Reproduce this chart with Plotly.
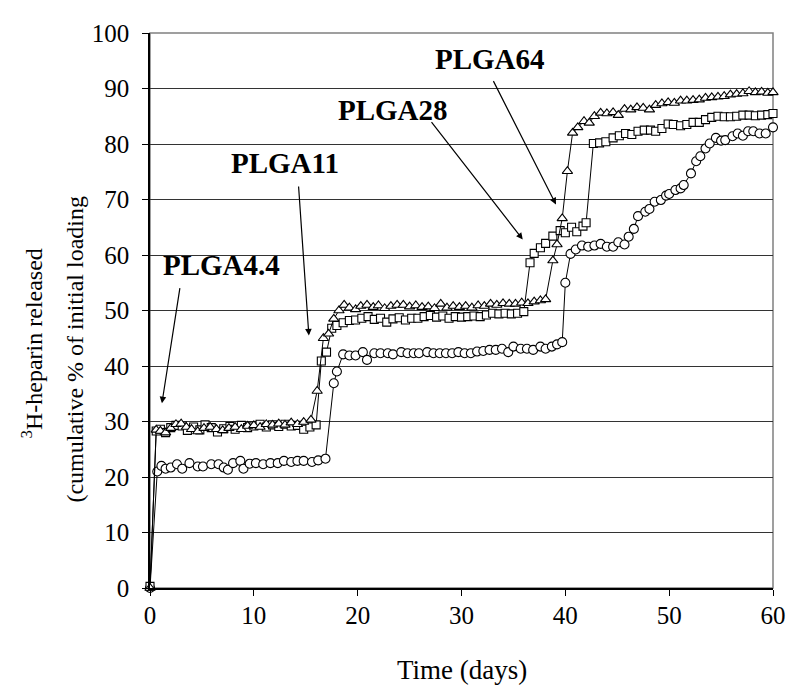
import plotly.graph_objects as go

# ---- data ----
t_circle = [0, 0.7, 1.1, 1.5, 2.0, 2.6, 3.1, 3.8, 4.6, 5.1, 5.9, 6.6, 7.1, 7.5, 8.0, 8.7, 9.0, 9.6,
            10.2, 10.9, 11.6, 12.3, 12.9, 13.6, 14.2, 14.8, 15.6, 16.2, 16.9, 17.7, 18.0, 18.6, 19.2,
            19.8, 20.5, 20.9, 21.6, 22.2, 22.9, 23.4, 24.2, 24.8, 25.4, 25.9, 26.7, 27.3, 27.9, 28.5,
            29.1, 29.7, 30.3, 30.9, 31.5, 32.1, 32.7, 33.3, 33.9, 34.5, 35.0, 35.7, 36.3, 36.9, 37.6,
            38.1, 38.7, 39.2, 39.7, 40.0, 40.5, 41.0, 41.6, 42.2, 42.8, 43.4, 44.0, 44.6, 45.1, 45.7,
            46.1, 46.6, 47.0, 47.7, 48.1, 48.6, 49.2, 49.7, 50.0, 50.6, 51.1, 51.4, 52.1, 52.6, 53.0,
            53.5, 53.9, 54.5, 55.0, 55.4, 56.1, 56.6, 57.1, 57.6, 58.1, 58.7, 59.3, 60.0]
v_circle = [0, 21.0, 22.0, 21.5, 21.7, 22.3, 21.5, 22.5, 21.9, 21.9, 22.3, 22.3, 21.7, 21.3, 22.5, 22.9,
            21.5, 22.4, 22.5, 22.3, 22.5, 22.5, 22.9, 22.7, 22.9, 22.9, 22.7, 23.0, 23.3, 36.9, 39.0,
            42.1, 41.9, 41.9, 42.5, 41.1, 42.3, 42.3, 42.3, 42.1, 42.5, 42.3, 42.3, 42.3, 42.5, 42.3,
            42.3, 42.3, 42.3, 42.5, 42.3, 42.3, 42.6, 42.7, 42.9, 42.9, 43.1, 42.5, 43.5, 43.1, 43.1,
            42.9, 43.5, 43.1, 43.5, 43.9, 44.3, 55.0, 60.2, 61.0, 61.7, 61.5, 61.7, 62.0, 61.5, 61.5,
            62.3, 61.9, 63.3, 64.7, 67.0, 67.8, 68.3, 69.6, 69.9, 70.7, 71.0, 71.7, 72.0, 72.6, 74.7,
            76.9, 77.8, 79.2, 80.1, 81.1, 80.6, 80.7, 81.4, 81.9, 81.5, 82.3, 82.3, 81.9, 81.9, 83.0]

t_square = [0, 0.6, 1.0, 1.5, 2.0, 2.5, 3.1, 3.6, 4.2, 4.8, 5.3, 5.9, 6.5, 7.1, 7.7, 8.2, 8.8, 9.4,
            10.0, 10.6, 11.2, 11.8, 12.4, 13.0, 13.6, 14.2, 14.8, 15.4, 16.0, 16.5, 17.0, 17.5, 18.0,
            18.6, 19.2, 19.8, 20.4, 21.0, 21.6, 22.2, 22.8, 23.4, 24.0, 24.6, 25.2, 25.8, 26.4, 27.0,
            27.6, 28.2, 28.8, 29.4, 30.0, 30.6, 31.2, 31.8, 32.4, 33.0, 33.6, 34.2, 34.8, 35.4, 36.0,
            36.6, 37.0, 37.6, 38.1, 38.8, 39.5, 40.0, 40.6, 41.1, 41.7, 42.0, 42.7, 43.3, 43.9, 44.6,
            45.2, 45.8, 46.4, 47.0, 47.6, 48.2, 48.7, 49.3, 49.9, 50.4, 51.1, 51.7, 52.3, 52.9, 53.5,
            54.1, 54.7, 55.3, 55.9, 56.5, 57.1, 57.7, 58.3, 58.9, 59.5, 60.0]
v_square = [0.3, 28.3, 28.6, 28.0, 28.9, 29.3, 29.2, 28.4, 29.0, 28.5, 29.4, 28.9, 28.1, 28.7, 29.1,
            28.6, 29.3, 28.9, 29.2, 29.5, 29.0, 29.4, 29.1, 29.5, 29.2, 29.3, 28.6, 29.0, 29.4, 40.9,
            42.5, 46.8, 47.3, 47.8, 48.2, 48.3, 48.6, 48.9, 48.4, 48.6, 47.9, 48.5, 48.7, 48.3, 48.6,
            48.6, 48.9, 49.1, 48.8, 49.0, 48.6, 48.9, 48.8, 48.9, 49.0, 48.9, 49.2, 49.5, 49.4, 49.5,
            49.4, 49.5, 49.8, 58.6, 60.3, 61.3, 62.1, 63.4, 64.4, 64.0, 65.0, 64.2, 65.2, 65.8, 80.1,
            80.2, 80.4, 81.1, 81.5, 81.9, 81.7, 82.3, 82.5, 82.5, 82.3, 82.8, 83.6, 83.5, 83.3, 83.5,
            83.9, 83.9, 84.4, 84.8, 85.0, 84.9, 84.9, 85.0, 85.2, 85.2, 85.1, 85.2, 85.3, 85.5]

t_triangle = [0, 0.6, 1.0, 1.5, 2.0, 2.5, 3.0, 3.5, 4.0, 4.6, 5.2, 5.8, 6.4, 7.0, 7.6, 8.2, 8.8, 9.4,
              10.0, 10.6, 11.2, 11.8, 12.4, 13.0, 13.6, 14.2, 14.8, 15.5, 16.1, 16.7, 17.2, 17.7, 18.2,
              18.7, 19.2, 19.8, 20.3, 20.9, 21.5, 22.0, 22.6, 23.2, 23.8, 24.4, 25.0, 25.6, 26.2, 26.8,
              27.4, 28.0, 28.6, 29.2, 29.8, 30.4, 31.0, 31.6, 32.2, 32.8, 33.4, 34.0, 34.6, 35.2, 35.8,
              36.4, 37.0, 37.6, 38.1, 38.8, 39.2, 39.7, 40.2, 40.7, 41.2, 41.8, 42.3, 42.8, 43.4, 44.0,
              44.6, 45.1, 45.7, 46.3, 46.9, 47.5, 48.1, 48.7, 49.3, 49.9, 50.5, 51.1, 51.7, 52.3, 52.9,
              53.5, 54.1, 54.7, 55.3, 55.9, 56.5, 57.1, 57.7, 58.3, 58.9, 59.5, 60.0]
v_triangle = [0, 28.5, 28.3, 28.0, 28.8, 29.5, 29.6, 29.0, 28.6, 28.2, 28.8, 29.0, 28.6, 28.4, 28.8,
              29.0, 28.6, 29.2, 29.3, 29.0, 29.5, 29.4, 29.6, 29.4, 29.8, 29.5, 29.9, 30.3, 35.5, 45.0,
              45.8, 48.5, 50.0, 51.0, 50.5, 50.2, 50.8, 51.0, 50.6, 50.9, 50.4, 50.8, 51.0, 51.0, 50.7,
              50.9, 50.6, 50.7, 50.4, 51.2, 50.5, 50.8, 50.6, 50.8, 50.5, 50.9, 50.8, 51.2, 51.0, 51.3,
              51.2, 51.2, 51.4, 51.3, 51.6, 51.8, 52.0, 59.0, 61.9, 66.6, 75.1, 82.0, 83.0, 84.1, 83.8,
              85.0, 85.6, 85.5, 85.7, 85.2, 86.3, 86.2, 86.6, 86.5, 86.2, 87.0, 87.3, 87.5, 87.4, 87.8,
              87.8, 87.9, 88.0, 88.3, 88.4, 88.5, 88.6, 88.9, 89.0, 89.1, 89.5, 89.3, 89.4, 89.2, 89.3]

x_ticks = [0, 10, 20, 30, 40, 50, 60]
y_ticks = [0, 10, 20, 30, 40, 50, 60, 70, 80, 90, 100]

# label text, text position (day, %), arrow tail (day, %), arrow tip (day, %)
labels = ["PLGA4.4", "PLGA11", "PLGA28", "PLGA64"]
label_pos = [(6.9, 58.2), (13.0, 76.6), (23.4, 86.2), (32.7, 95.4)]
arrow_tail = [(2.9, 54.3), (14.3, 72.6), (27.0, 84.2), (33.0, 91.6)]
arrow_tip = [(1.15, 33.3), (15.3, 45.5), (35.9, 62.8), (39.1, 69.1)]

FONT = "Liberation Serif, Times New Roman, serif"

fig = go.Figure()

series = [(t_circle, v_circle, "circle", 9),
          (t_square, v_square, "square", 8),
          (t_triangle, v_triangle, "triangle-up", 9)]
for t, v, sym, sz in series:
    fig.add_trace(go.Scatter(
        x=t, y=v, mode="lines+markers",
        line=dict(color="black", width=1),
        marker=dict(symbol=sym, size=sz, color="white",
                    line=dict(color="black", width=1.1)),
        cliponaxis=False, showlegend=False, hoverinfo="skip"))

annotations = []
for txt, (lx, ly) in zip(labels, label_pos):
    annotations.append(dict(x=lx, y=ly, xref="x", yref="y", text="<b>%s</b>" % txt,
                            xanchor="center", yanchor="middle",
                            showarrow=False, font=dict(family=FONT, size=29, color="black")))
for (tx, ty), (hx, hy) in zip(arrow_tail, arrow_tip):
    annotations.append(dict(x=hx, y=hy, xref="x", yref="y", ax=tx, ay=ty, axref="x", ayref="y",
                            text="", showarrow=True, arrowhead=2, arrowsize=1.1,
                            arrowwidth=1.2, arrowcolor="black"))

# axis titles
annotations.append(dict(x=-0.19, y=0.44, xref="paper", yref="paper", textangle=-90,
                        xanchor="center", yanchor="middle",
                        text="<sup>3</sup>H-heparin released", showarrow=False,
                        font=dict(family=FONT, size=24, color="black")))
annotations.append(dict(x=-0.12, y=0.43, xref="paper", yref="paper", textangle=-90,
                        xanchor="center", yanchor="middle",
                        text="(cumulative % of initial loading", showarrow=False,
                        font=dict(family=FONT, size=24, color="black")))
annotations.append(dict(x=0.5, y=-0.147, xref="paper", yref="paper",
                        xanchor="center", yanchor="middle",
                        text="Time (days)", showarrow=False,
                        font=dict(family=FONT, size=27, color="black")))

# the page body adds an 8px offset, so the figure is 8px smaller on each axis
fig.update_layout(
    width=790, height=679,
    margin=dict(l=142, r=13, t=15, b=99),
    paper_bgcolor="white", plot_bgcolor="white",
    font=dict(family=FONT, size=25, color="black"),
    annotations=annotations,
    shapes=[dict(type="rect", xref="paper", yref="paper", x0=0, y0=0, x1=1, y1=1,
                 line=dict(color="#808080", width=1.5), layer="below")],
)
fig.update_xaxes(range=[0, 60], tickvals=x_ticks, showgrid=False, zeroline=False,
                 showline=True, linecolor="black", linewidth=1.5,
                 ticks="outside", ticklen=6, tickcolor="black", tickwidth=1,
                 ticklabelstandoff=-2,
                 tickfont=dict(family=FONT, size=25, color="black"))
fig.update_yaxes(range=[0, 100], tickvals=y_ticks, showgrid=True, gridcolor="#333333",
                 gridwidth=1, zeroline=False,
                 showline=True, linecolor="black", linewidth=1.5,
                 ticks="outside", ticklen=6, tickcolor="black", tickwidth=1,
                 ticklabelstandoff=8,
                 tickfont=dict(family=FONT, size=25, color="black"))

fig.write_html("out.html")
